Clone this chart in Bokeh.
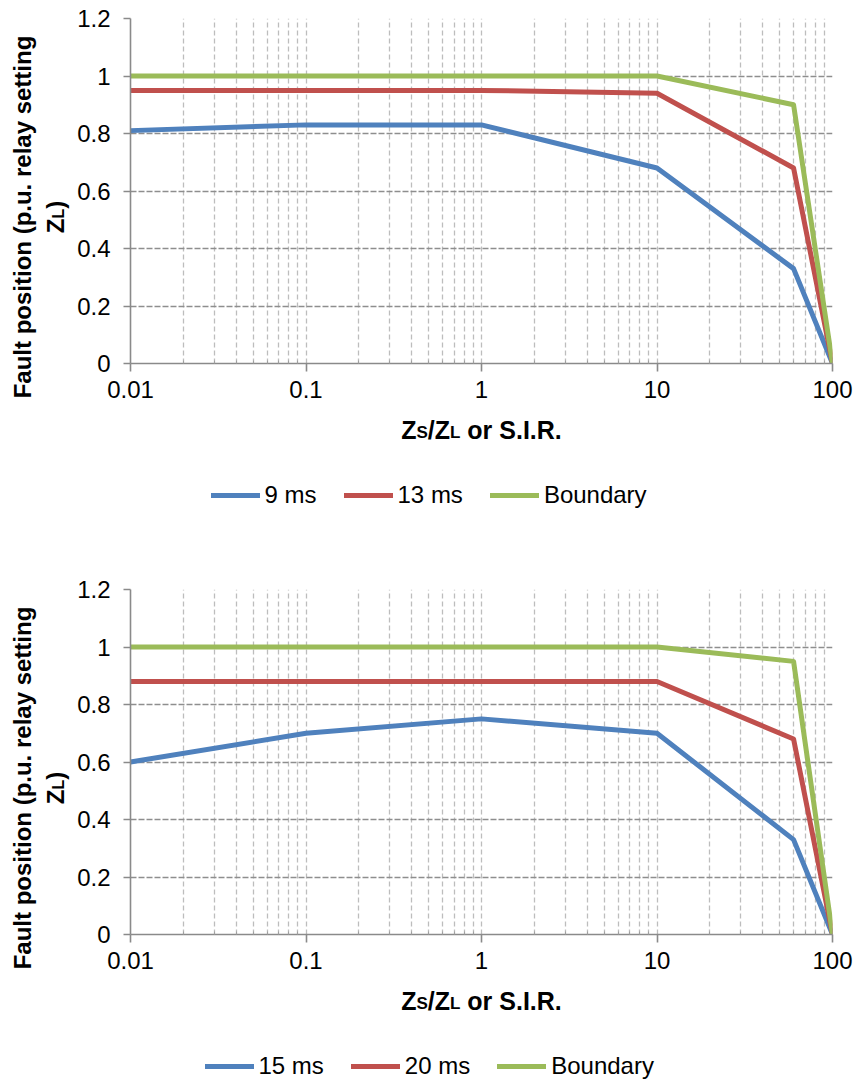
import math
from bokeh.plotting import figure
from bokeh.models import Range1d, FixedTicker, Label, Legend, LegendItem, Div
from bokeh.layouts import column, row
from bokeh.embed import file_html
from bokeh.resources import INLINE

# ---------------- data ----------------
sir = [0.01, 0.1, 1, 10, 60, 100]

top_labels = ["9 ms", "13 ms", "Boundary"]
top_blue = [0.81, 0.83, 0.83, 0.68, 0.33, 0.0]
top_red = [0.95, 0.95, 0.95, 0.94, 0.68, 0.0]
top_green = [1.0, 1.0, 1.0, 1.0, 0.90, 0.0]

bot_labels = ["15 ms", "20 ms", "Boundary"]
bot_blue = [0.60, 0.70, 0.75, 0.70, 0.33, 0.0]
bot_red = [0.88, 0.88, 0.88, 0.88, 0.68, 0.0]
bot_green = [1.0, 1.0, 1.0, 1.0, 0.95, 0.0]

x_ticks = [0.01, 0.1, 1, 10, 100]
x_tick_labels = ["0.01", "0.1", "1", "10", "100"]
x_minor = [k * 10.0 ** e for e in range(-2, 2) for k in range(2, 10)]
y_ticks = [0, 0.2, 0.4, 0.6, 0.8, 1.0, 1.2]
y_tick_labels = ["0", "0.2", "0.4", "0.6", "0.8", "1", "1.2"]

y_title_1 = "Fault position (p.u. relay setting"
y_title_2 = ("Z", "L", ")")
x_title = [("Z", 25), ("S", 17), ("/Z", 25), ("L", 17), (" or S.I.R.", 25)]

COLORS = ["#4F81BD", "#C0504D", "#9BBB59"]
FONT = "Liberation Sans"
LINE_W = 5

# Arial/Liberation Sans Bold advance widths (per 1000 em)
BOLD_W = {"Z": 611, "S": 667, "L": 611, "/": 278, " ": 278, "o": 611, "r": 389,
          ".": 278, "I": 278, "R": 722}


def tw(s, size):
    return sum(BOLD_W.get(c, 600) for c in s) / 1000.0 * size


def add_pieces(p, pieces, xc, y_base):
    """Horizontal run of bold texts of mixed sizes sharing one baseline."""
    total = sum(tw(t, s) for t, s in pieces)
    pos = xc - total / 2.0
    for t, s in pieces:
        shown = t.lstrip()
        lead = tw(t[:len(t) - len(shown)], s)
        lab = Label(x=pos + lead, y=y_base + 0.3465 * s, text=shown,
                    text_align="left", text_baseline="middle")
        lab.text_font = FONT
        lab.text_font_size = "%gpx" % s
        lab.text_font_style = "bold"
        lab.text_color = "black"
        p.add_layout(lab)
        pos += tw(t, s)


LEFT_W = 72
CHART_W = 781
CHART_H = 410
B_LEFT, B_RIGHT = 58, 21
FRAME_W = CHART_W - B_LEFT - B_RIGHT


def y_title_div(h, yc):
    z, l, paren = y_title_2
    common = ("position:absolute;transform:translate(-50%,-50%) rotate(-90deg);"
              "white-space:nowrap;font-size:24px;line-height:24px;")
    html = (
        f'<div style="position:relative;width:{LEFT_W}px;height:{h}px;'
        f"font-family:'{FONT}',Arial,sans-serif;font-weight:bold;color:black;\">"
        f'<div style="{common}left:22.7px;top:{yc}px;">{y_title_1}</div>'
        f'<div style="{common}left:56.7px;top:{yc}px;">{z}'
        f'<span style="font-size:16px;">{l}</span>{paren}</div>'
        f'</div>'
    )
    return Div(text=html, width=LEFT_W, height=h, margin=0,
               styles={"overflow": "visible"})


def make_block(blue, red, green, labels, block_h, legend_x, legend_y):
    # ---- chart ----
    p = figure(width=CHART_W, height=CHART_H, x_axis_type="log",
               x_range=Range1d(0.01, 100), y_range=Range1d(0, 1.2),
               output_backend="svg", toolbar_location=None,
               min_border_left=B_LEFT, min_border_right=B_RIGHT, min_border_top=18,
               min_border_bottom=47)
    p.outline_line_color = None

    p.xaxis.ticker = FixedTicker(ticks=x_ticks, minor_ticks=x_minor)
    p.xaxis.major_label_overrides = dict(zip(x_ticks, x_tick_labels))
    p.yaxis.ticker = FixedTicker(ticks=y_ticks)
    p.yaxis.major_label_overrides = dict(zip(y_ticks, y_tick_labels))
    for ax in (p.xaxis, p.yaxis):
        ax.axis_line_color = "#8a8a8a"
        ax.axis_line_width = 1.6
        ax.major_tick_line_color = "#8a8a8a"
        ax.major_tick_line_width = 1.6
        ax.major_tick_in = 0
        ax.major_label_text_font = FONT
        ax.major_label_text_font_size = "24px"
        ax.major_label_text_color = "black"
    p.xaxis.major_tick_out = 8
    p.xaxis.minor_tick_in = 3
    p.xaxis.minor_tick_out = 0
    p.xaxis.minor_tick_line_color = "#a0a0a0"
    p.xaxis.major_label_standoff = 9
    p.yaxis.major_tick_out = 7
    p.yaxis.minor_tick_line_color = None
    p.yaxis.major_label_standoff = 13

    p.xgrid.grid_line_color = "#bdbdbd"
    p.xgrid.grid_line_dash = "5 3"
    p.xgrid.grid_line_width = 1.3
    p.xgrid.minor_grid_line_color = "#bdbdbd"
    p.xgrid.minor_grid_line_dash = "5 3"
    p.xgrid.minor_grid_line_width = 1.3
    p.ygrid.grid_line_color = "#8e8e8e"
    p.ygrid.grid_line_dash = "6 2"
    p.ygrid.grid_line_width = 1.5

    for ys, c in zip([blue, red, green], COLORS):
        p.line(sir, ys, line_color=c, line_width=LINE_W,
               line_cap="round", line_join="round")

    # ---- x title + legend panel (frame aligned with the chart frame) ----
    bh = block_h - CHART_H
    bt = figure(width=CHART_W, height=bh, x_range=Range1d(0, FRAME_W),
                y_range=Range1d(0, bh), output_backend="svg", toolbar_location=None,
                min_border_left=B_LEFT, min_border_right=B_RIGHT,
                min_border_top=0, min_border_bottom=0,
                x_axis_location=None, y_axis_location=None)
    bt.outline_line_color = None
    bt.grid.visible = False
    add_pieces(bt, x_title, FRAME_W / 2.0, bh - 28)
    keys = [bt.line(sir, ys, line_color=c, line_width=LINE_W, line_cap="round",
                    visible=False)
            for ys, c in zip([blue, red, green], COLORS)]
    legend = Legend(items=[LegendItem(label=l, renderers=[r]) for l, r in zip(labels, keys)],
                    orientation="horizontal", location=(legend_x, legend_y),
                    padding=0, margin=0, spacing=27, glyph_width=49, glyph_height=20,
                    label_height=20, label_standoff=5, border_line_color=None,
                    background_fill_alpha=0, inactive_fill_alpha=0)
    legend.label_text_font = FONT
    legend.label_text_font_size = "24px"
    legend.label_text_color = "black"
    bt.add_layout(legend)

    yt = y_title_div(block_h, 216.5)
    return row(yt, column(p, bt, spacing=0), spacing=0)


b1 = make_block(top_blue, top_red, top_green, top_labels, 571, 80.5, 62.5)
b2 = make_block(bot_blue, bot_red, bot_green, bot_labels, 509, 74.5, 0)

layout = column(b1, b2, spacing=0)
open("out.html", "w").write(file_html(layout, INLINE))
